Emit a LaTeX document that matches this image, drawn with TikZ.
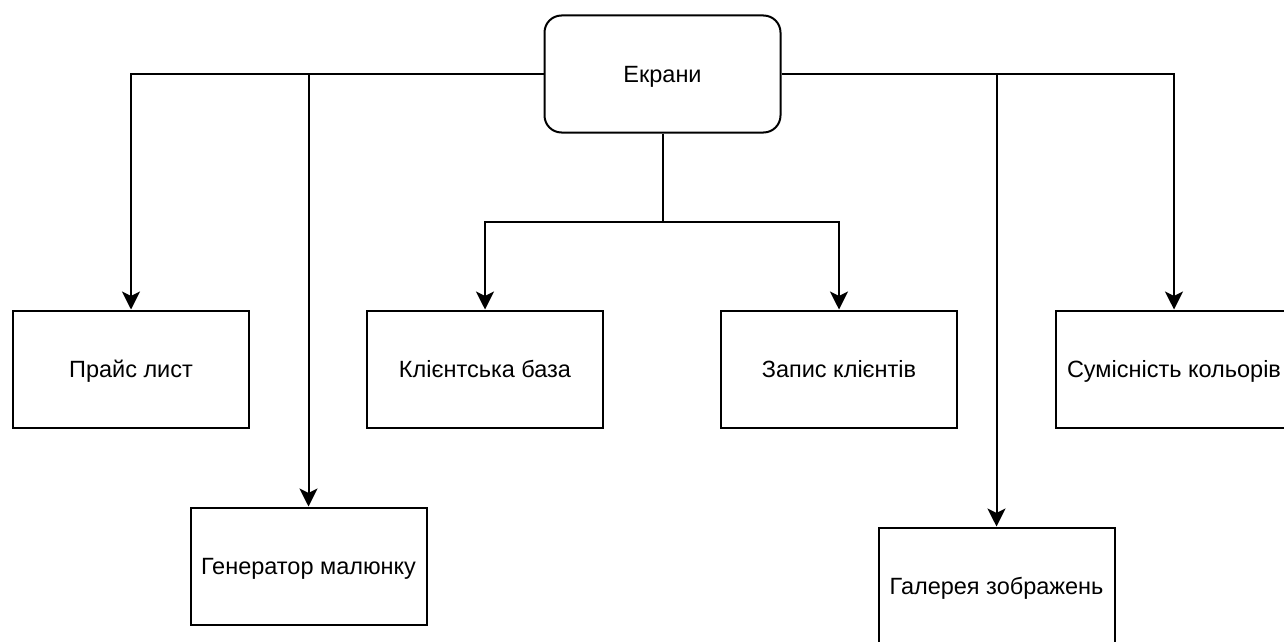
\documentclass[tikz,border=0pt]{standalone}
\usepackage{fontspec}
\setmainfont{Liberation Sans}
\usetikzlibrary{arrows.meta}
\begin{document}
\begin{tikzpicture}[x=1pt,y=-1pt,
  every node/.style={font=\fontsize{23.5}{28}\selectfont},
  box/.style={draw, line width=2pt, rectangle, minimum width=236pt, minimum height=117pt, inner sep=0pt, text depth=0pt},
  rootbox/.style={box, rounded corners=17pt},
  link/.style={line width=2pt, -{Stealth[length=18pt,width=18pt,inset=4.5pt]}},
  trunk/.style={line width=2pt}]
  \useasboundingbox (0,0) rectangle (1284,642);
  \clip (0,0) rectangle (1284,642);
  % root and children
  \node[rootbox] (root) at (662.5,74) {Екрани};
  \node[box] (price)   at (131,369)   {Прайс лист};
  \node[box] (gen)     at (308.5,566) {Генератор малюнку};
  \node[box] (clients) at (485,369)   {Клієнтська база};
  \node[box] (record)  at (839,369)   {Запис клієнтів};
  \node[box] (compat)  at (1174,369)  {Сумісність кольорів};
  \node[box] (gallery) at (996.5,586) {Галерея зображень};
  % branch point below the root
  \coordinate (split) at (662.5,222);
  % connectors
  \draw[link] (root.west) -| (price.north);
  \draw[link] (root.west) -| (gen.north);
  \draw[link] (root.east) -| (compat.north);
  \draw[link] (root.east) -| (gallery.north);
  \draw[trunk] (root.south) -- (split);
  \draw[link] (split) -| (clients.north);
  \draw[link] (split) -| (record.north);
\end{tikzpicture}
\end{document}
